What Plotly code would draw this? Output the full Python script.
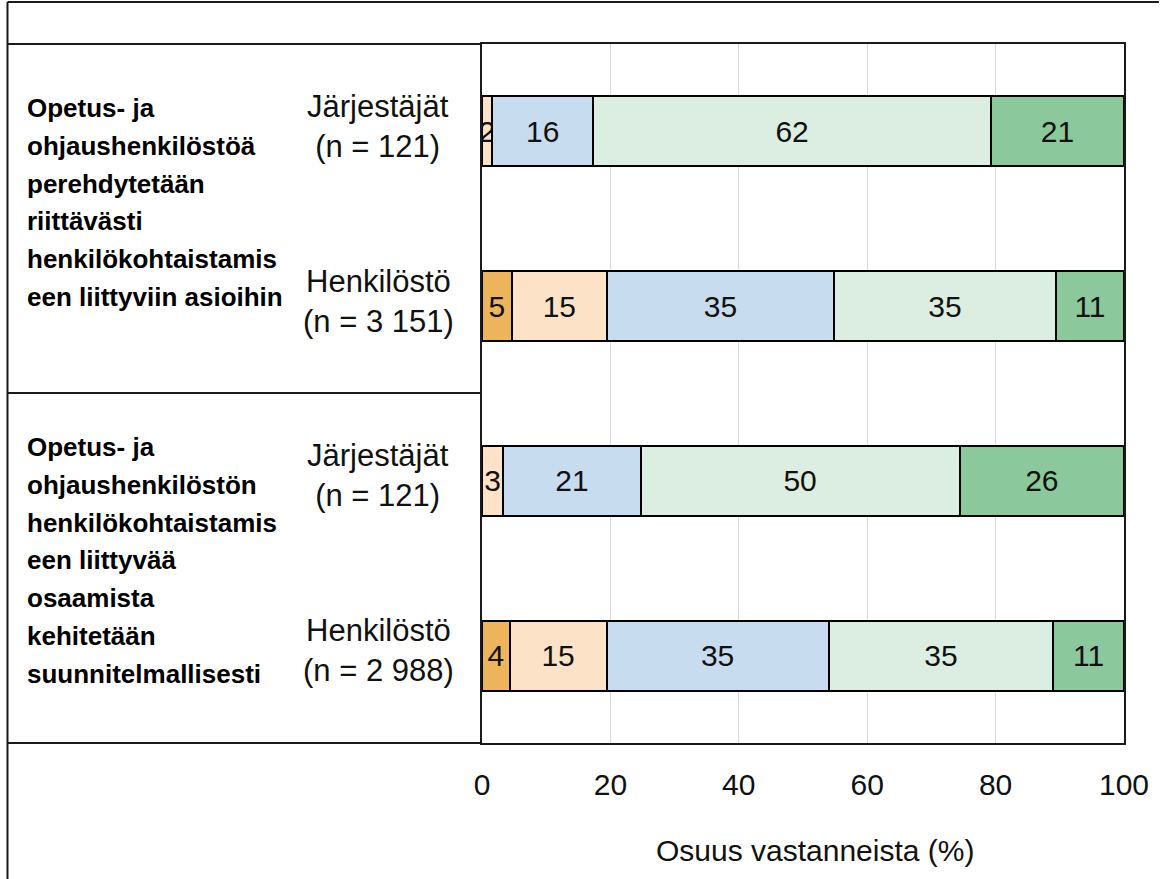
import plotly.graph_objects as go

# ---- data ----
rows = ["Q1 Järjestäjät", "Q1 Henkilöstö", "Q2 Järjestäjät", "Q2 Henkilöstö"]
row_labels = ["Järjestäjät<br>(n = 121)", "Henkilöstö<br>(n = 3 151)",
              "Järjestäjät<br>(n = 121)", "Henkilöstö<br>(n = 2 988)"]
question1_lines = ["Opetus- ja", "ohjaushenkilöstöä", "perehdytetään", "riittävästi",
                   "henkilökohtaistamis", "een liittyviin asioihin"]
question2_lines = ["Opetus- ja", "ohjaushenkilöstön", "henkilökohtaistamis", "een liittyvää",
                   "osaamista", "kehitetään", "suunnitelmallisesti"]

seg1 = [0.0, 4.6, 0.0, 4.3]       # dark orange
seg2 = [1.6, 14.9, 3.3, 15.1]     # light orange
seg3 = [15.7, 35.3, 21.4, 34.6]   # blue
seg4 = [62.0, 34.6, 49.7, 35.0]   # light green
seg5 = [20.7, 10.6, 25.6, 11.0]   # green

colors = ["#EDB55B", "#FCE3C7", "#C8DCF0", "#DCEDE1", "#8BC99C"]
x_ticks = [0, 20, 40, 60, 80, 100]
x_title = "Osuus vastanneista (%)"

REG = "Liberation Sans, Arial, sans-serif"

fig = go.Figure()
for vals, col in zip([seg1, seg2, seg3, seg4, seg5], colors):
    fig.add_trace(go.Bar(
        y=rows, x=vals, orientation="h", width=0.4,
        marker=dict(color=col, line=dict(color="black", width=2)),
        text=[f"{v:.0f}" if v > 0 else "" for v in vals],
        textposition="inside", insidetextanchor="middle", constraintext="none",
        textfont=dict(family=REG, size=30, color="#111111"),
        hoverinfo="skip", showlegend=False,
    ))

W, H = 1161, 879
L, R, T, B = 482, 35, 44, 136
pw, ph = W - L - R, H - T - B

def px(xp):
    return (xp - L) / pw

def py(yp):
    return (H - B - yp) / ph

annotations = []
for lab, r in zip(row_labels, rows):
    annotations.append(dict(x=px(378), xref="paper", y=r, yref="y", yshift=5,
                            text=lab, showarrow=False, xanchor="center", yanchor="middle",
                            font=dict(family=REG, size=31, color="#111111")))
for lines, y0 in [(question1_lines, 108), (question2_lines, 447)]:
    for i, line in enumerate(lines):
        annotations.append(dict(x=px(24), xref="paper", y=py(y0 + 37.8 * i), yref="paper",
                                text=f"<b>{line}</b>", showarrow=False,
                                xanchor="left", yanchor="middle",
                                font=dict(family=REG, size=26, color="#000000")))
annotations.append(dict(x=px(816), xref="paper", y=py(850), yref="paper", text=x_title,
                        showarrow=False, xanchor="center", yanchor="middle",
                        font=dict(family=REG, size=30, color="#111111")))

shapes = []
line_style = dict(color="#1a1a1a", width=2)
# outer frame
shapes.append(dict(type="line", xref="paper", yref="paper", x0=px(6), x1=px(1161), y0=py(2), y1=py(2), line=line_style))
shapes.append(dict(type="line", xref="paper", yref="paper", x0=px(6), x1=px(6), y0=py(2), y1=py(879), line=line_style))
# table rows on the left
for yy in [44, 393, 743]:
    shapes.append(dict(type="line", xref="paper", yref="paper", x0=px(6), x1=px(482), y0=py(yy), y1=py(yy), line=line_style))

fig.update_layout(
    barmode="stack",
    width=W, height=H,
    margin=dict(l=L, r=R, t=T, b=B, pad=0),
    plot_bgcolor="white", paper_bgcolor="white",
    bargap=0.6,
    xaxis=dict(range=[0, 100], tickvals=x_ticks, ticks="", showgrid=True, gridcolor="#D9D9D9",
               gridwidth=1, showline=True, linecolor="#1a1a1a", linewidth=2, mirror=True,
               zeroline=False, ticklabelstandoff=14,
               tickfont=dict(family=REG, size=30, color="#111111"), fixedrange=True),
    yaxis=dict(categoryorder="array", categoryarray=rows, autorange="reversed",
               showticklabels=False, ticks="", showgrid=False, showline=True,
               linecolor="#1a1a1a", linewidth=2, mirror=True, fixedrange=True),
    annotations=annotations,
    shapes=shapes,
)

fig.write_html("out.html", config={"displayModeBar": False},
               post_script="document.body.style.margin='0';document.body.style.overflow='hidden';")
